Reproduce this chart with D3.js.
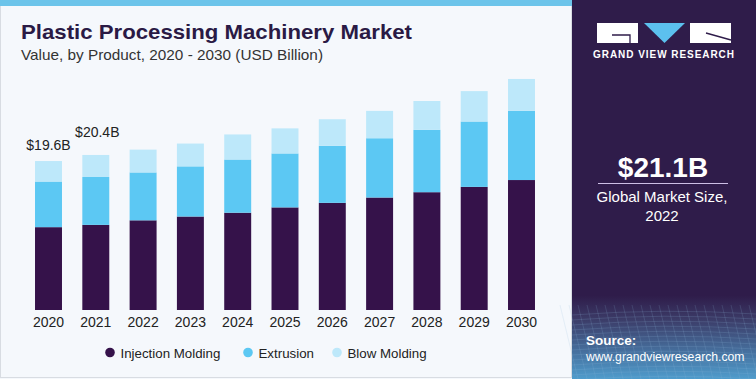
<!DOCTYPE html>
<html><head><meta charset="utf-8">
<script src="https://cdn.jsdelivr.net/npm/d3@7"></script>
<style>
html,body{margin:0;padding:0;background:#fff;}
svg{display:block;font-family:"Liberation Sans",Arial,sans-serif;}
</style></head>
<body><svg id="c" width="756" height="379"></svg>
<script>
const years = ["2020","2021","2022","2023","2024","2025","2026","2027","2028","2029","2030"];
const injection = [10.9,11.2,11.8,12.3,12.8,13.5,14.1,14.8,15.5,16.2,17.1];
const extrusion = [6.0,6.3,6.3,6.6,7.0,7.1,7.5,7.8,8.2,8.6,9.1];
const blowMolding = [2.7,2.9,3.0,3.0,3.3,3.3,3.5,3.6,3.8,4.0,4.2];
const seriesNames = ["Injection Molding","Extrusion","Blow Molding"];
const seriesColors = ["#35124a","#5cc8f3","#bde8fa"];
const valueLabels = [{year:"2020",text:"$19.6B",dy:-11},{year:"2021",text:"$20.4B",dy:-18}];

const svg = d3.select("#c");
const W=756,H=379;

// background panels
svg.append("rect").attr("x",0).attr("y",0).attr("width",572).attr("height",H).attr("fill","#f5f8fc");
svg.append("rect").attr("x",0.5).attr("y",0.5).attr("width",571).attr("height",H-2).attr("fill","none").attr("stroke","#d8dce2");
svg.append("rect").attr("x",0).attr("y",0).attr("width",572).attr("height",6).attr("fill","#6cc4ea");

// right panel
const defs = svg.append("defs");
const g1 = defs.append("linearGradient").attr("id","rg").attr("x1",0).attr("y1",0).attr("x2",0).attr("y2",1);
g1.append("stop").attr("offset","0").attr("stop-color","#2f1c4a");
g1.append("stop").attr("offset","0.78").attr("stop-color","#2f1c4a");
g1.append("stop").attr("offset","0.84").attr("stop-color","#3b3a66");
g1.append("stop").attr("offset","1").attr("stop-color","#4f9ccc");
svg.append("rect").attr("x",572).attr("y",0).attr("width",W-572).attr("height",H).attr("fill","url(#rg)");
// grid texture
const grid = svg.append("g").attr("stroke","#8fb8dd").attr("stroke-opacity",0.25).attr("stroke-width",0.7).attr("fill","none");
for(let i=0;i<14;i++){
  const y=312+i*5;
  grid.append("path").attr("d",`M572,${y+3} Q664,${y-4} 756,${y+2}`);
}
for(let i=0;i<26;i++){
  const x=560+i*9;
  grid.append("path").attr("d",`M${x},305 L${x+18},379`);
}

// logo
const lg = svg.append("g");
lg.append("rect").attr("x",597).attr("y",23).attr("width",41).attr("height",20).attr("fill","#fff");
lg.append("path").attr("d","M612,35 H630 V43").attr("stroke","#2f1c4a").attr("stroke-width",1.3).attr("fill","none");
lg.append("path").attr("d","M644,23 L685,23 L664.5,43 Z").attr("fill","#5cc0ee");
lg.append("rect").attr("x",690).attr("y",23).attr("width",41).attr("height",20).attr("fill","#fff");
lg.append("path").attr("d","M706,33 L731,40").attr("stroke","#2f1c4a").attr("stroke-width",1.3).attr("fill","none");
svg.append("text").attr("x",664).attr("y",57.5).attr("text-anchor","middle").attr("fill","#fff")
  .attr("font-size",10).attr("font-weight","bold").attr("letter-spacing",0.95).text("GRAND VIEW RESEARCH");

svg.append("text").attr("x",663).attr("y",177).attr("text-anchor","middle").attr("fill","#fff")
  .attr("font-size",28).attr("font-weight","bold").text("$21.1B");
svg.append("line").attr("x1",598).attr("x2",728).attr("y1",183.5).attr("y2",183.5).attr("stroke","#cdbfe6").attr("stroke-width",1.2);
svg.append("text").attr("x",662).attr("y",202).attr("text-anchor","middle").attr("fill","#fff").attr("font-size",15).text("Global Market Size,");
svg.append("text").attr("x",662).attr("y",220.5).attr("text-anchor","middle").attr("fill","#fff").attr("font-size",15).text("2022");
svg.append("text").attr("x",586).attr("y",345).attr("fill","#fff").attr("font-size",13.5).attr("font-weight","bold").text("Source:");
svg.append("text").attr("x",586).attr("y",361).attr("fill","#fff").attr("font-size",12.2).text("www.grandviewresearch.com");

// titles
svg.append("text").attr("x",21).attr("y",38.5).attr("fill","#2a1a45").attr("font-size",21).attr("font-weight","900")
  .attr("textLength",391).attr("lengthAdjust","spacingAndGlyphs").text("Plastic Processing Machinery Market");
svg.append("text").attr("x",21).attr("y",59.5).attr("fill","#333").attr("font-size",15)
  .attr("textLength",302).attr("lengthAdjust","spacingAndGlyphs").text("Value, by Product, 2020 - 2030 (USD Billion)");

// chart
const x = d3.scaleBand().domain(years).range([24.85,545.15]).paddingInner(0.43).paddingOuter(0.215);
const y = d3.scaleLinear().domain([0,30]).range([310,82]);
const data = years.map((yr,i)=>({year:yr,"Injection Molding":injection[i],"Extrusion":extrusion[i],"Blow Molding":blowMolding[i]}));
const stack = d3.stack().keys(seriesNames)(data);
const color = d3.scaleOrdinal().domain(seriesNames).range(seriesColors);

svg.append("g").selectAll("g").data(stack).join("g").attr("fill",d=>color(d.key))
  .selectAll("rect").data(d=>d).join("rect")
  .attr("x",d=>x(d.data.year)).attr("width",x.bandwidth())
  .attr("y",d=>y(d[1])).attr("height",d=>y(d[0])-y(d[1]));

// axis
const ax = svg.append("g").attr("transform","translate(0,310)").call(d3.axisBottom(x).tickSize(0).tickPadding(7));
ax.select(".domain").remove();
ax.selectAll("text").attr("font-size",14).attr("fill","#222").attr("font-family","Liberation Sans, Arial, sans-serif");

// value labels
const totals = years.map((yr,i)=>injection[i]+extrusion[i]+blowMolding[i]);
valueLabels.forEach(l=>{
  const i = years.indexOf(l.year);
  svg.append("text").attr("x",x(l.year)+x.bandwidth()/2+(i===1?1.5:0)).attr("y",y(totals[i])+l.dy)
    .attr("text-anchor","middle").attr("font-size",14).attr("fill","#222").text(l.text);
});

// legend
const legX = [110,248,337];
const leg = svg.append("g");
seriesNames.forEach((n,i)=>{
  leg.append("circle").attr("cx",legX[i]).attr("cy",352.5).attr("r",4.8).attr("fill",seriesColors[i]);
  leg.append("text").attr("x",legX[i]+10.5).attr("y",357.5).attr("font-size",13.3).attr("fill","#222").text(n);
});
</script></body></html>
